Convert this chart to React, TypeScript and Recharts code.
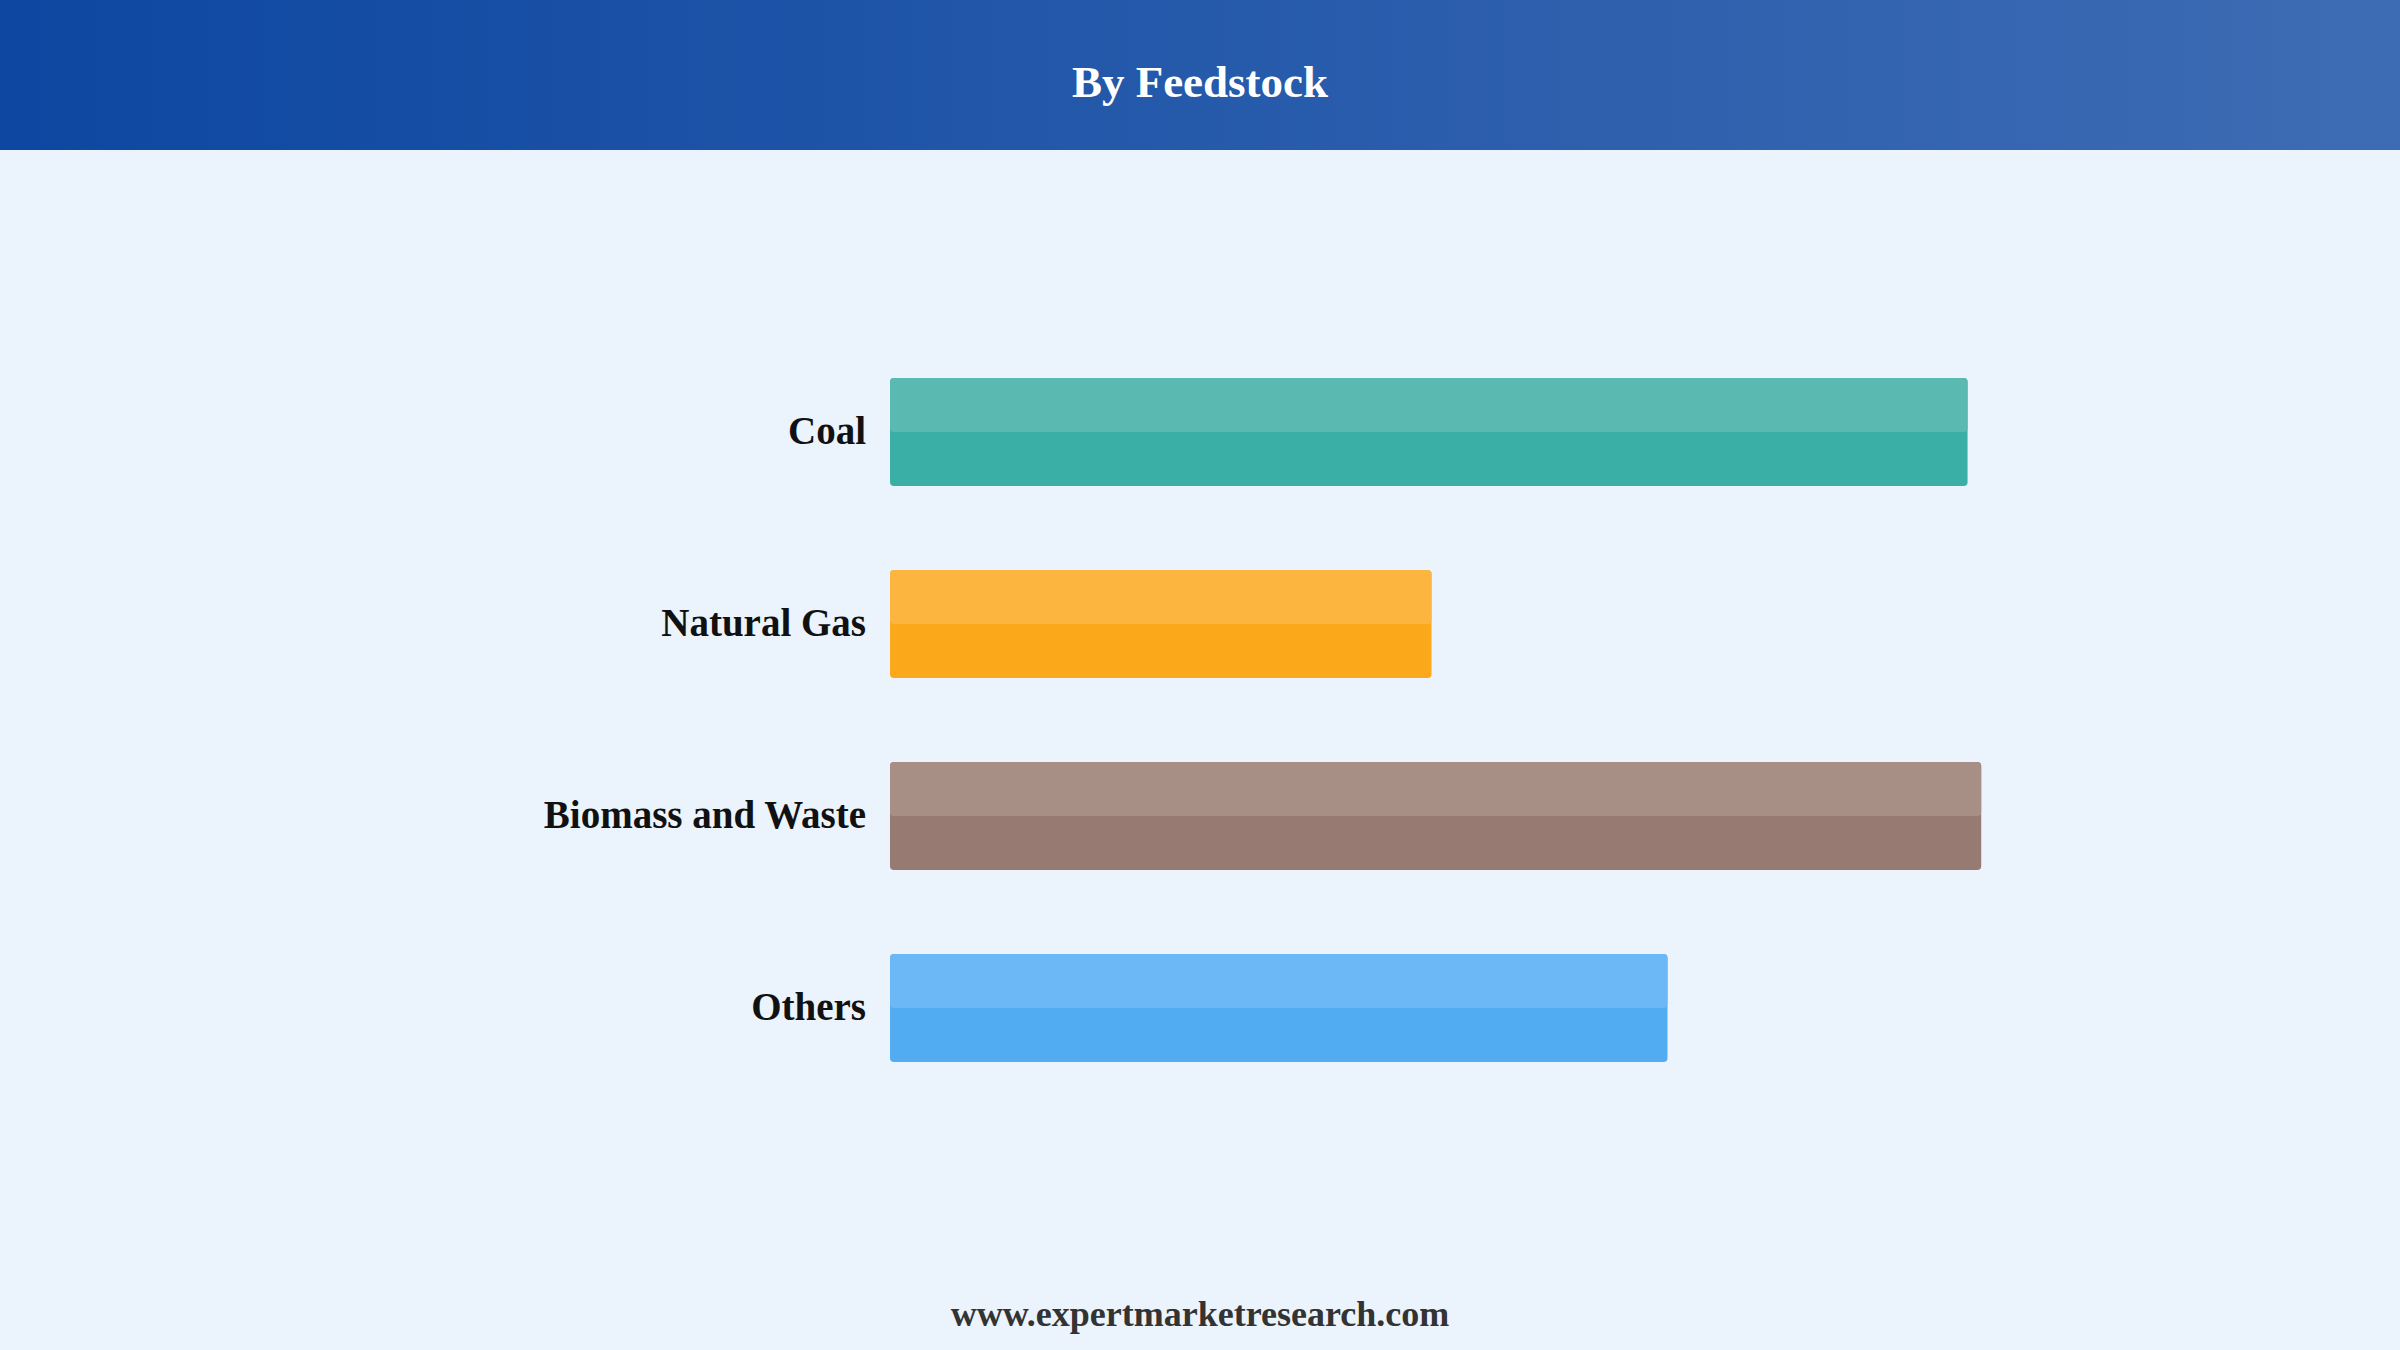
import React from "react";
import { BarChart, Bar, XAxis, YAxis } from "recharts";

const categories = ["Coal", "Natural Gas", "Biomass and Waste", "Others"];
const values = [79, 39.7, 80, 57];
const baseColors = ["#3aafa6", "#fba91b", "#977b72", "#51acf2"];
const topColors = ["#5ab9b1", "#fcb53f", "#a88f86", "#6cb7f5"];

const data = categories.map((name, i) => ({ name, value: values[i] }));

const FONT = '"Liberation Serif", "Times New Roman", Times, serif';

const TwoToneBar = (props: any) => {
  const { x, y, width, height, index } = props;
  if (width == null || height == null) return null;
  const r = 4;
  return (
    <g>
      <rect x={x} y={y} width={width} height={height} rx={r} ry={r} fill={baseColors[index]} />
      <rect x={x} y={y} width={width} height={height / 2} rx={r} ry={r} fill={topColors[index]} />
    </g>
  );
};

export default function App() {
  return (
    <div
      style={{
        position: "absolute",
        left: 0,
        top: 0,
        width: 2400,
        height: 1350,
        background: "#ebf3fc",
        overflow: "hidden",
        fontFamily: FONT,
      }}
    >
      <div
        style={{
          position: "absolute",
          left: 0,
          top: 0,
          width: 2400,
          height: 150,
          background: "linear-gradient(to right, #0d47a1, #3e6cb4)",
        }}
      />
      <div
        style={{
          position: "absolute",
          left: 0,
          top: 0,
          width: 2400,
          height: 150,
          display: "flex",
          alignItems: "center",
          justifyContent: "center",
          color: "#ffffff",
          fontSize: 45,
          fontWeight: "bold",
          paddingTop: 14,
          boxSizing: "border-box",
        }}
      >
        By Feedstock
      </div>
      <div style={{ position: "absolute", left: 0, top: 0 }}>
        <BarChart
          width={2400}
          height={1350}
          data={data}
          layout="vertical"
          margin={{ top: 336, bottom: 246, left: 390, right: 146 }}
          barCategoryGap={42}
        >
          <XAxis type="number" domain={[0, 100]} hide />
          <YAxis
            type="category"
            dataKey="name"
            width={500}
            tickLine={false}
            axisLine={false}
            tickSize={0}
            tickMargin={24}
            interval={0}
            tick={{ fontSize: 39, fontWeight: "bold", fill: "#111111", fontFamily: FONT, dy: -1.5 }}
          />
          <Bar dataKey="value" barSize={108} isAnimationActive={false} shape={<TwoToneBar />} />
        </BarChart>
      </div>
      <div
        style={{
          position: "absolute",
          left: 0,
          top: 1290,
          width: 2400,
          textAlign: "center",
          color: "#333333",
          fontSize: 36,
          fontWeight: "bold",
          lineHeight: "48px",
        }}
      >
        www.expertmarketresearch.com
      </div>
    </div>
  );
}
